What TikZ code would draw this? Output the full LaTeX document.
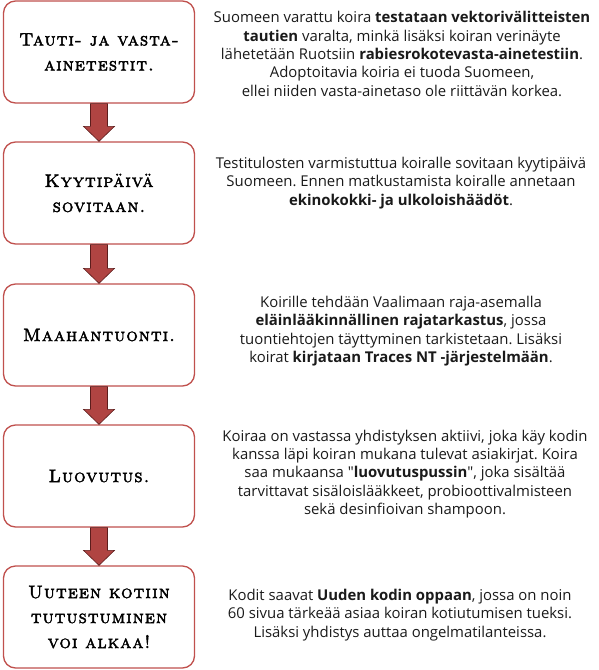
\documentclass[tikz,border=0pt]{standalone}
\usepackage{fontspec}
\usetikzlibrary{calc}
\newfontfamily\bodyfont{Open Sans}
\newfontfamily\stepfont[LetterSpace=6,FakeBold=2.5]{lmromancaps10-regular.otf}
\definecolor{boxred}{HTML}{C0504D}
\definecolor{arrowred}{HTML}{B04442}
\definecolor{arrowline}{HTML}{5C1D1C}
\definecolor{bodytext}{HTML}{1A1A1A}
\frenchspacing

\begin{document}
\begin{tikzpicture}[x=1pt, y=-1pt,
    stepbox/.style={draw=boxred, line width=1.3pt, rounded corners=12pt, fill=white,
      minimum width=191pt, minimum height=102pt, align=center,
      font=\stepfont\fontsize{18}{25}\selectfont},
    info/.style={align=center, text=bodytext, inner sep=0pt,
      font=\bodyfont\fontsize{14.9}{18.3}\selectfont},
    flow/.style={fill=arrowred, draw=arrowline, line width=0.6pt}]
    \useasboundingbox (0,0) rectangle (599,670);
    % steps on the left
    \foreach \i/\y/\txt in {1/52/{Tauti- ja vasta-\\ainetestit.}, 2/193/{Kyytipäivä\\sovitaan.},
        3/335/{Maahantuonti.}, 4/476/{Luovutus.}, 5/617/{Uuteen kotiin\\tutustuminen\\voi alkaa!}} {
        \node[stepbox] (b\i) at (99,\y) {\txt};
    }
    % arrows between the steps
    \foreach \i/\j in {1/2, 2/3, 3/4, 4/5} {
        \draw[flow] ($(b\i.south)+(-8.5pt,0)$) -- ($(b\j.north)+(-8.5pt,15pt)$) -- ($(b\j.north)+(-15.5pt,15pt)$)
            -- (b\j.north) -- ($(b\j.north)+(15.5pt,15pt)$) -- ($(b\j.north)+(8.5pt,15pt)$)
            -- ($(b\i.south)+(8.5pt,0)$) -- cycle;
    }
    % descriptions on the right
    \node[info] (t1) at (402,54) {Suomeen varattu koira \textbf{testataan vektorivälitteisten}\\
        \textbf{tautien} varalta, minkä lisäksi koiran verinäyte\\
        lähetetään Ruotsiin \textbf{rabiesrokotevasta-ainetestiin}.\\
        Adoptoitavia koiria ei tuoda Suomeen,\\
        ellei niiden vasta-ainetaso ole riittävän korkea.};
    \node[info] (t2) at (401,183) {Testitulosten varmistuttua koiralle sovitaan kyytipäivä\\
        Suomeen. Ennen matkustamista koiralle annetaan\\
        \textbf{ekinokokki- ja ulkoloishäädöt}.};
    \node[info] (t3) at (401,331) {Koirille tehdään Vaalimaan raja-asemalla\\
        \textbf{eläinlääkinnällinen rajatarkastus}, jossa\\
        tuontiehtojen täyttyminen tarkistetaan. Lisäksi\\
        koirat \textbf{kirjataan Traces NT -järjestelmään}.};
    \node[info] (t4) at (405,474) {Koiraa on vastassa yhdistyksen aktiivi, joka käy kodin\\
        kanssa läpi koiran mukana tulevat asiakirjat. Koira\\
        saa mukaansa "\textbf{luovutuspussin}", joka sisältää\\
        tarvittavat sisäloislääkkeet, probioottivalmisteen\\
        sekä desinfioivan shampoon.};
    \node[info] (t5) at (400,615) {Kodit saavat \textbf{Uuden kodin oppaan}, jossa on noin\\
        60 sivua tärkeää asiaa koiran kotiutumisen tueksi.\\
        Lisäksi yhdistys auttaa ongelmatilanteissa.};
\end{tikzpicture}
\end{document}
